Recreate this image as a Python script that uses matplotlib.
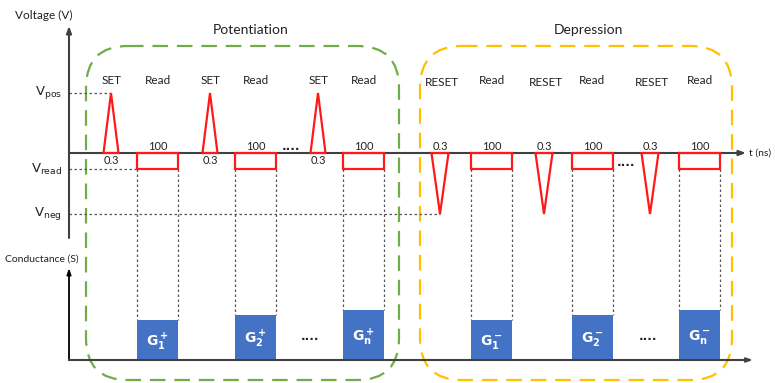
import matplotlib
matplotlib.use("Agg")
import matplotlib.pyplot as plt
from matplotlib.patches import FancyBboxPatch, Rectangle, Polygon

plt.rcParams['font.family'] = ['Lato', 'DejaVu Sans']

# ---- schematic layout (pixel units, y grows downward) ----
W, H = 775, 383
axis_x = 69
t_axis_y = 153          # 0 V level of the voltage/time axis
v_levels = {"pos": 93, "read": 169, "neg": 214}
g_axis_y = 360          # baseline of the conductance axis
g_axis_top = 268

pulse_width = 15
read_width = 41
set_centers = [111, 210, 318]
reset_centers = [440, 544, 650]
read_starts_pot = [137, 235, 343]
read_starts_dep = [471, 572, 679]
pulse_label = "0.3"
read_label = "100"

# conductance bar tops, increasing step by step
g_tops_pot = [320, 315, 310]
g_tops_dep = [320, 315, 310]
g_labels_pot = [r"$\mathbf{G_1^+}$", r"$\mathbf{G_2^+}$", r"$\mathbf{G_n^+}$"]
g_labels_dep = [r"$\mathbf{G_1^-}$", r"$\mathbf{G_2^-}$", r"$\mathbf{G_n^-}$"]

RED = "#FF1A1A"
BLUE = "#4472C4"
GREEN = "#70AD47"
YELLOW = "#FFC000"
AX = "#404040"
GRID = "#555555"

fig = plt.figure(figsize=(W / 100, H / 100), dpi=100)
ax = fig.add_axes([0, 0, 1, 1])
ax.set_xlim(0, W)
ax.set_ylim(H, 0)
ax.axis("off")

# phase boxes
for (x0, x1, col, title, tx) in [(86, 399, GREEN, "Potentiation", 251),
                                 (420, 732, YELLOW, "Depression", 588)]:
    box = FancyBboxPatch((x0, 46), x1 - x0, 334,
                         boxstyle="round,pad=0,rounding_size=42",
                         fill=False, ec=col, lw=1.6, ls=(0, (7, 4)), zorder=1)
    ax.add_patch(box)
    ax.text(tx, 30, title, ha="center", va="center", fontsize=10, color="#222222")

# axes with arrows
ax.annotate("", xy=(axis_x, 26), xytext=(axis_x, 238),
            arrowprops=dict(arrowstyle="-|>,head_width=0.15,head_length=0.4",
                            color=AX, lw=1.5, shrinkA=0, shrinkB=0), zorder=3)
ax.annotate("", xy=(746, t_axis_y), xytext=(axis_x, t_axis_y),
            arrowprops=dict(arrowstyle="-|>,head_width=0.15,head_length=0.4",
                            color=AX, lw=1.5, shrinkA=0, shrinkB=0), zorder=3)
ax.annotate("", xy=(axis_x, g_axis_top), xytext=(axis_x, g_axis_y),
            arrowprops=dict(arrowstyle="-|>,head_width=0.12,head_length=0.35",
                            color="black", lw=1.3, shrinkA=0, shrinkB=0), zorder=3)
ax.annotate("", xy=(753, g_axis_y), xytext=(axis_x, g_axis_y),
            arrowprops=dict(arrowstyle="-|>,head_width=0.12,head_length=0.35",
                            color=AX, lw=1.5, shrinkA=0, shrinkB=0), zorder=3)

ax.text(15, 15, "Voltage (V)", ha="left", va="center", fontsize=8.5, color="#222222")
ax.text(749, t_axis_y, "t (ns)", ha="left", va="center", fontsize=7.5, color="#222222")
ax.text(5, 259, "Conductance (S)", ha="left", va="center", fontsize=7.5, color="#222222")
for key in ["pos", "read", "neg"]:
    ax.text(62, v_levels[key], r"$\mathrm{V_{%s}}$" % key, ha="right", va="center",
            fontsize=9.5, color="#222222")

# level guide lines
dot = dict(color=GRID, lw=0.9, ls=(0, (2, 2)), zorder=2)
ax.plot([axis_x, set_centers[0]], [v_levels["pos"]] * 2, **dot)
ax.plot([axis_x, read_starts_pot[0]], [v_levels["read"]] * 2, **dot)
ax.plot([axis_x, reset_centers[0]], [v_levels["neg"]] * 2, **dot)

# SET pulses
for c in set_centers:
    tri = Polygon([(c - pulse_width / 2, t_axis_y), (c, v_levels["pos"]),
                   (c + pulse_width / 2, t_axis_y)], closed=True, fill=False,
                  ec=RED, lw=1.6, zorder=4)
    ax.add_patch(tri)
    ax.text(c + 1, 80, "SET", ha="center", va="center", fontsize=8.5, color="#222222")
    ax.text(c, 160, pulse_label, ha="center", va="center", fontsize=8, color="#222222")

# RESET pulses
for c in reset_centers:
    tri = Polygon([(c - pulse_width / 2 - 1, t_axis_y), (c, v_levels["neg"]),
                   (c + pulse_width / 2 + 1, t_axis_y)], closed=True, fill=False,
                  ec=RED, lw=1.6, zorder=4)
    ax.add_patch(tri)
    ax.text(c + 2, 82, "RESET", ha="center", va="center", fontsize=8.5, color="#222222")
    ax.text(c, 146, pulse_label, ha="center", va="center", fontsize=8, color="#222222")

# read pulses, guide lines and conductance bars
def draw_reads(starts, tops, labels):
    for s, top, lab in zip(starts, tops, labels):
        rect = Rectangle((s, t_axis_y), read_width, v_levels["read"] - t_axis_y,
                         fill=False, ec=RED, lw=1.6, zorder=4)
        ax.add_patch(rect)
        ax.text(s + read_width / 2, 80, "Read", ha="center", va="center",
                fontsize=8.5, color="#222222")
        ax.text(s + read_width / 2, 146, read_label, ha="center", va="center",
                fontsize=8, color="#222222")
        for xv in (s, s + read_width):
            ax.plot([xv, xv], [v_levels["read"], top], **dot)
        ax.add_patch(Rectangle((s, top), read_width, g_axis_y - top,
                               fc=BLUE, ec="none", zorder=2))
        ax.text(s + read_width / 2, (top + g_axis_y) / 2 + 2, lab, ha="center",
                va="center", fontsize=10, color="white", zorder=5)

draw_reads(read_starts_pot, g_tops_pot, g_labels_pot)
draw_reads(read_starts_dep, g_tops_dep, g_labels_dep)

# ellipsis marks
for (x, y) in [(291, 146), (626, 162), (310, 336), (648, 336)]:
    ax.text(x, y, "....", ha="center", va="center", fontsize=8.5, color="#222222",
            family="DejaVu Sans", fontweight="bold")

fig.savefig("out.png", dpi=100)
